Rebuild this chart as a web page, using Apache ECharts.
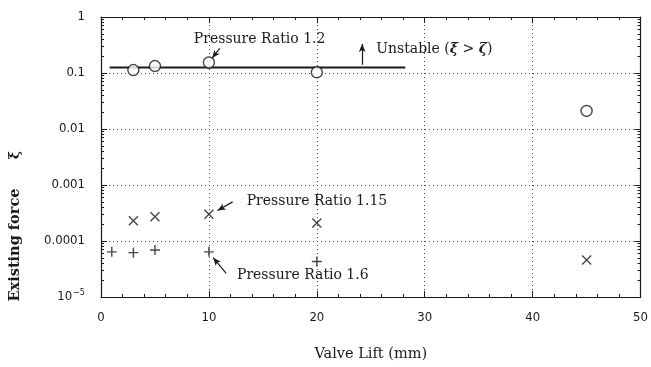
<!DOCTYPE html>
<html>
<head>
<meta charset="utf-8">
<script src="https://cdn.jsdelivr.net/npm/echarts@6/dist/echarts.min.js"></script>
<style>html,body{margin:0;padding:0;background:#fff}#c{width:651px;height:367px}</style>
</head>
<body>
<div id="c"></div>
<script>
// ---- data ----
const xTickLabels = ['0','10','20','30','40','50'];
const yTickValues = [1e-5, 1e-4, 1e-3, 1e-2, 1e-1, 1];
const lift12 = [3, 5, 10, 20, 45];
const force12 = [0.113, 0.133, 0.154, 0.103, 0.021];
const lift115 = [3, 5, 10, 20, 45];
const force115 = [0.00023, 0.00027, 0.0003, 0.00021, 0.000046];
const lift16 = [1, 3, 5, 10, 20];
const force16 = [0.000064, 0.000062, 0.000069, 0.000064, 0.000043];
const stabilityLimit = 0.125;
const limitLift = [0.8, 28.2];

// minor log ticks (2..9 per decade), expressed as exponents for a linear overlay axis
const minorLogExp = [];
for (let e = -5; e < 0; e++) for (let m = 2; m <= 9; m++) minorLogExp.push(e + Math.log10(m));

const serif = "'DejaVu Serif', 'Liberation Serif', serif";
const narrow = "'Liberation Sans Narrow', 'DejaVu Sans Condensed', 'Liberation Sans', sans-serif";

const chart = echarts.init(document.getElementById('c'));
const grid = {left: 101, right: 10, top: 17, bottom: 67};

function yLabel(v) {
  if (v >= 0.99) return '1';
  if (v < 2e-5) return '{a|10}{b|−5}';
  const e = Math.round(Math.log10(v));
  return (Math.pow(10, e)).toFixed(-e);
}

const zip = (a, b) => a.map((v, i) => [v, b[i]]);
const arrowLine = (from, to) => [{coord: from}, {coord: to}];
const ink = '#1a1a1a';

const minorOverlay = (pos) => ({
  type: 'value', min: -5, max: 0, position: pos,
  axisLine: {show: false, onZero: false},
  axisTick: {show: true, inside: true, length: 3, customValues: minorLogExp, lineStyle: {color: ink}},
  splitLine: {show: false}, axisLabel: {show: false}
});

chart.setOption({
  animation: false,
  grid: grid,
  xAxis: [{
    type: 'value', min: 0, max: 50, interval: 10,
    axisLine: {onZero: false, lineStyle: {color: ink, width: 1.2}},
    axisTick: {inside: true, length: 6, lineStyle: {color: ink}},
    minorTick: {show: true, splitNumber: 5, length: 3, lineStyle: {color: ink}},
    splitLine: {show: true, lineStyle: {type: [1, 3], color: '#444', width: 1}},
    axisLabel: {margin: 14, fontFamily: narrow, fontSize: 13, color: ink,
      formatter: (v) => xTickLabels[Math.round(v / 10)]},
    name: 'Valve Lift (mm)', nameLocation: 'middle', nameGap: 50,
    nameTextStyle: {fontFamily: serif, fontSize: 14.5, color: ink}
  }, {
    type: 'value', min: 0, max: 50, interval: 10, position: 'top',
    axisLine: {onZero: false, lineStyle: {color: ink, width: 1.2}},
    axisTick: {inside: true, length: 6, lineStyle: {color: ink}},
    minorTick: {show: true, splitNumber: 5, length: 3, lineStyle: {color: ink}},
    splitLine: {show: false}, axisLabel: {show: false}
  }],
  yAxis: [{
    type: 'log', logBase: 10, min: 1e-5, max: 1,
    axisLine: {onZero: false, lineStyle: {color: ink, width: 1.2}},
    axisTick: {inside: true, length: 6, lineStyle: {color: ink}},
    splitLine: {show: true, lineStyle: {type: [1, 3], color: '#444', width: 1}},
    axisLabel: {margin: 16, fontFamily: narrow, fontSize: 13, color: ink,
      formatter: yLabel,
      rich: {a: {fontFamily: narrow, fontSize: 13, color: ink},
             b: {fontFamily: narrow, fontSize: 9, color: ink, verticalAlign: 'bottom', padding: [0, 0, 8, 1]}}}
  }, {
    type: 'log', logBase: 10, min: 1e-5, max: 1, position: 'right',
    axisLine: {show: true, onZero: false, lineStyle: {color: ink, width: 1.2}},
    axisTick: {inside: true, length: 6, lineStyle: {color: ink}},
    splitLine: {show: false}, axisLabel: {show: false}
  }, minorOverlay('left'), minorOverlay('right')],
  series: [{
    name: 'limit', type: 'line', symbol: 'none', z: 2,
    lineStyle: {color: ink, width: 2},
    data: limitLift.map(x => [x, stabilityLimit]),
    markLine: {
      silent: true, symbol: ['none', 'arrow'], symbolSize: [5, 8],
      lineStyle: {color: ink, width: 1.2, type: 'solid'}, label: {show: false},
      data: [
        arrowLine([24.2, 0.140], [24.2, 0.33]),
        arrowLine([11.0, 0.274], [10.3, 0.185]),
        arrowLine([12.2, 0.0005], [10.8, 0.00035]),
        arrowLine([11.6, 0.0000264], [10.4, 0.0000504])
      ]
    }
  }, {
    name: 'Pressure Ratio 1.2', type: 'scatter', z: 5, symbol: 'circle', symbolSize: 11,
    itemStyle: {color: '#fff', borderColor: ink, borderWidth: 1.4},
    data: zip(lift12, force12)
  }, {
    name: 'Pressure Ratio 1.15', type: 'scatter', z: 5, symbol: 'path://M0,0L10,10M10,0L0,10', symbolSize: 9,
    itemStyle: {color: 'none', borderColor: ink, borderWidth: 1.4},
    data: zip(lift115, force115)
  }, {
    name: 'Pressure Ratio 1.6', type: 'scatter', z: 5, symbol: 'path://M5,0L5,10M0,5L10,5', symbolSize: 10,
    itemStyle: {color: 'none', borderColor: ink, borderWidth: 1.4},
    data: zip(lift16, force16)
  }]
});

// text annotations anchored in data coordinates
const annots = [
  {at: [8.6, 0.395], text: 'Pressure Ratio 1.2'},
  {at: [25.5, 0.264], text: 'Unstable ({i|ξ} > {i|ζ})'},
  {at: [13.5, 0.000504], text: 'Pressure Ratio 1.15'},
  {at: [12.6, 0.0000243], text: 'Pressure Ratio 1.6'}
];
const graphics = annots.map(a => {
  const p = chart.convertToPixel({xAxisIndex: 0, yAxisIndex: 0}, a.at);
  return {type: 'text', x: p[0], y: p[1], z: 10,
    style: {text: a.text, fontFamily: serif, fontSize: 14, fill: ink, verticalAlign: 'middle', align: 'left',
      rich: {i: {fontFamily: serif, fontSize: 14, fontStyle: 'italic', fontWeight: 'bold', fill: ink}}}};
});
graphics.push({type: 'text', x: 15, y: 245, rotation: Math.PI / 2,
  style: {text: 'Existing force', fontFamily: serif, fontSize: 14.5, fontWeight: 'bold', fill: ink, align: 'center', verticalAlign: 'middle'}});
graphics.push({type: 'text', x: 15, y: 155, rotation: Math.PI / 2,
  style: {text: 'ξ', fontFamily: serif, fontSize: 14, fontWeight: 'bold', fill: ink, align: 'center', verticalAlign: 'middle'}});
chart.setOption({graphic: graphics});
</script>
</body>
</html>
